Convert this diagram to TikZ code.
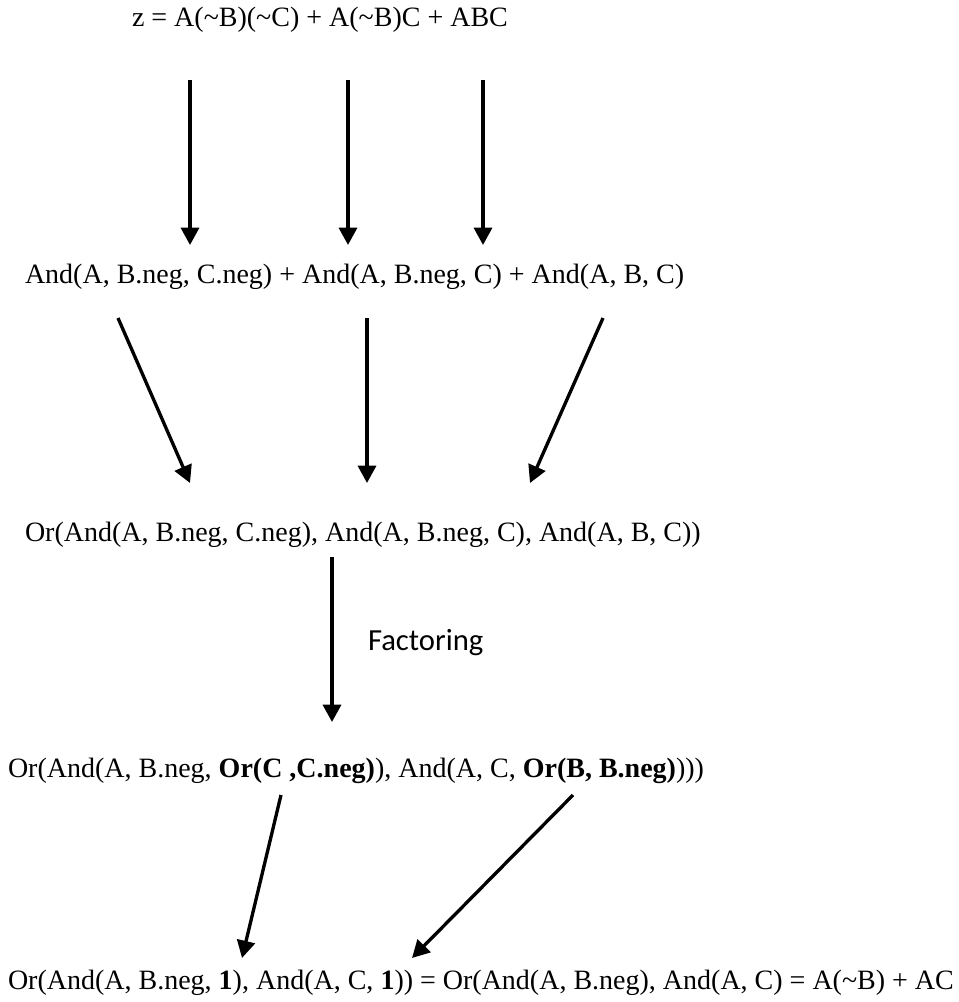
\documentclass[tikz,border=0pt]{standalone}
\usepackage{fontspec}
\setmainfont{Liberation Serif}
\newfontfamily\calibrifont{Carlito}
\usetikzlibrary{arrows.meta}
\begin{document}
\begin{tikzpicture}[x=0.75pt,y=-0.75pt,
  txt/.style={anchor=base west,inner sep=0pt,outer sep=0pt,font=\fontsize{21}{25}\selectfont},
  lbl/.style={anchor=base west,inner sep=0pt,outer sep=0pt,font=\calibrifont\fontsize{23}{27}\selectfont},
  arr/.style={line width=2.5pt,-{Triangle[length=13pt,width=13.5pt]}}]
\useasboundingbox (0,0) rectangle (958,1002);
% text lines
\node[txt] (l1) at (132,27) {z = A(\textasciitilde B)(\textasciitilde C) + A(\textasciitilde B)C + ABC};
\node[txt] (l2) at (25,283) {And(A, B.neg, C.neg) + And(A, B.neg, C) + And(A, B, C)};
\node[txt] (l3) at (25,541) {Or(And(A, B.neg, C.neg), And(A, B.neg, C), And(A, B, C))};
\node[txt] (l4) at (8,777) {Or(And(A, B.neg, \textbf{Or(C ,C.neg)}), And(A, C, \textbf{Or(B, B.neg)})))};
\node[txt] (l5) at (8,989) {Or(And(A, B.neg, \textbf{1}), And(A, C, \textbf{1})) = Or(And(A, B.neg), And(A, C) = A(\textasciitilde B) + AC};
\node[lbl] (fact) at (368,650) {Factoring};
% arrow end points
\coordinate (a1s) at (190,80);  \coordinate (a1e) at (190,245);
\coordinate (a2s) at (348,80);  \coordinate (a2e) at (348,245);
\coordinate (a3s) at (483,80);  \coordinate (a3e) at (483,245);
\coordinate (b1s) at (118,318); \coordinate (b1e) at (190,483);
\coordinate (b2s) at (367,318); \coordinate (b2e) at (367,483);
\coordinate (b3s) at (603,318); \coordinate (b3e) at (530,483);
\coordinate (c1s) at (332,557); \coordinate (c1e) at (332,722);
\coordinate (d1s) at (281,795); \coordinate (d1e) at (242,958);
\coordinate (d2s) at (573,795); \coordinate (d2e) at (412,958);
% arrows
\draw[arr] (a1s) -- (a1e);
\draw[arr] (a2s) -- (a2e);
\draw[arr] (a3s) -- (a3e);
\draw[arr] (b1s) -- (b1e);
\draw[arr] (b2s) -- (b2e);
\draw[arr] (b3s) -- (b3e);
\draw[arr] (c1s) -- (c1e);
\draw[arr] (d1s) -- (d1e);
\draw[arr] (d2s) -- (d2e);
\end{tikzpicture}
\end{document}
